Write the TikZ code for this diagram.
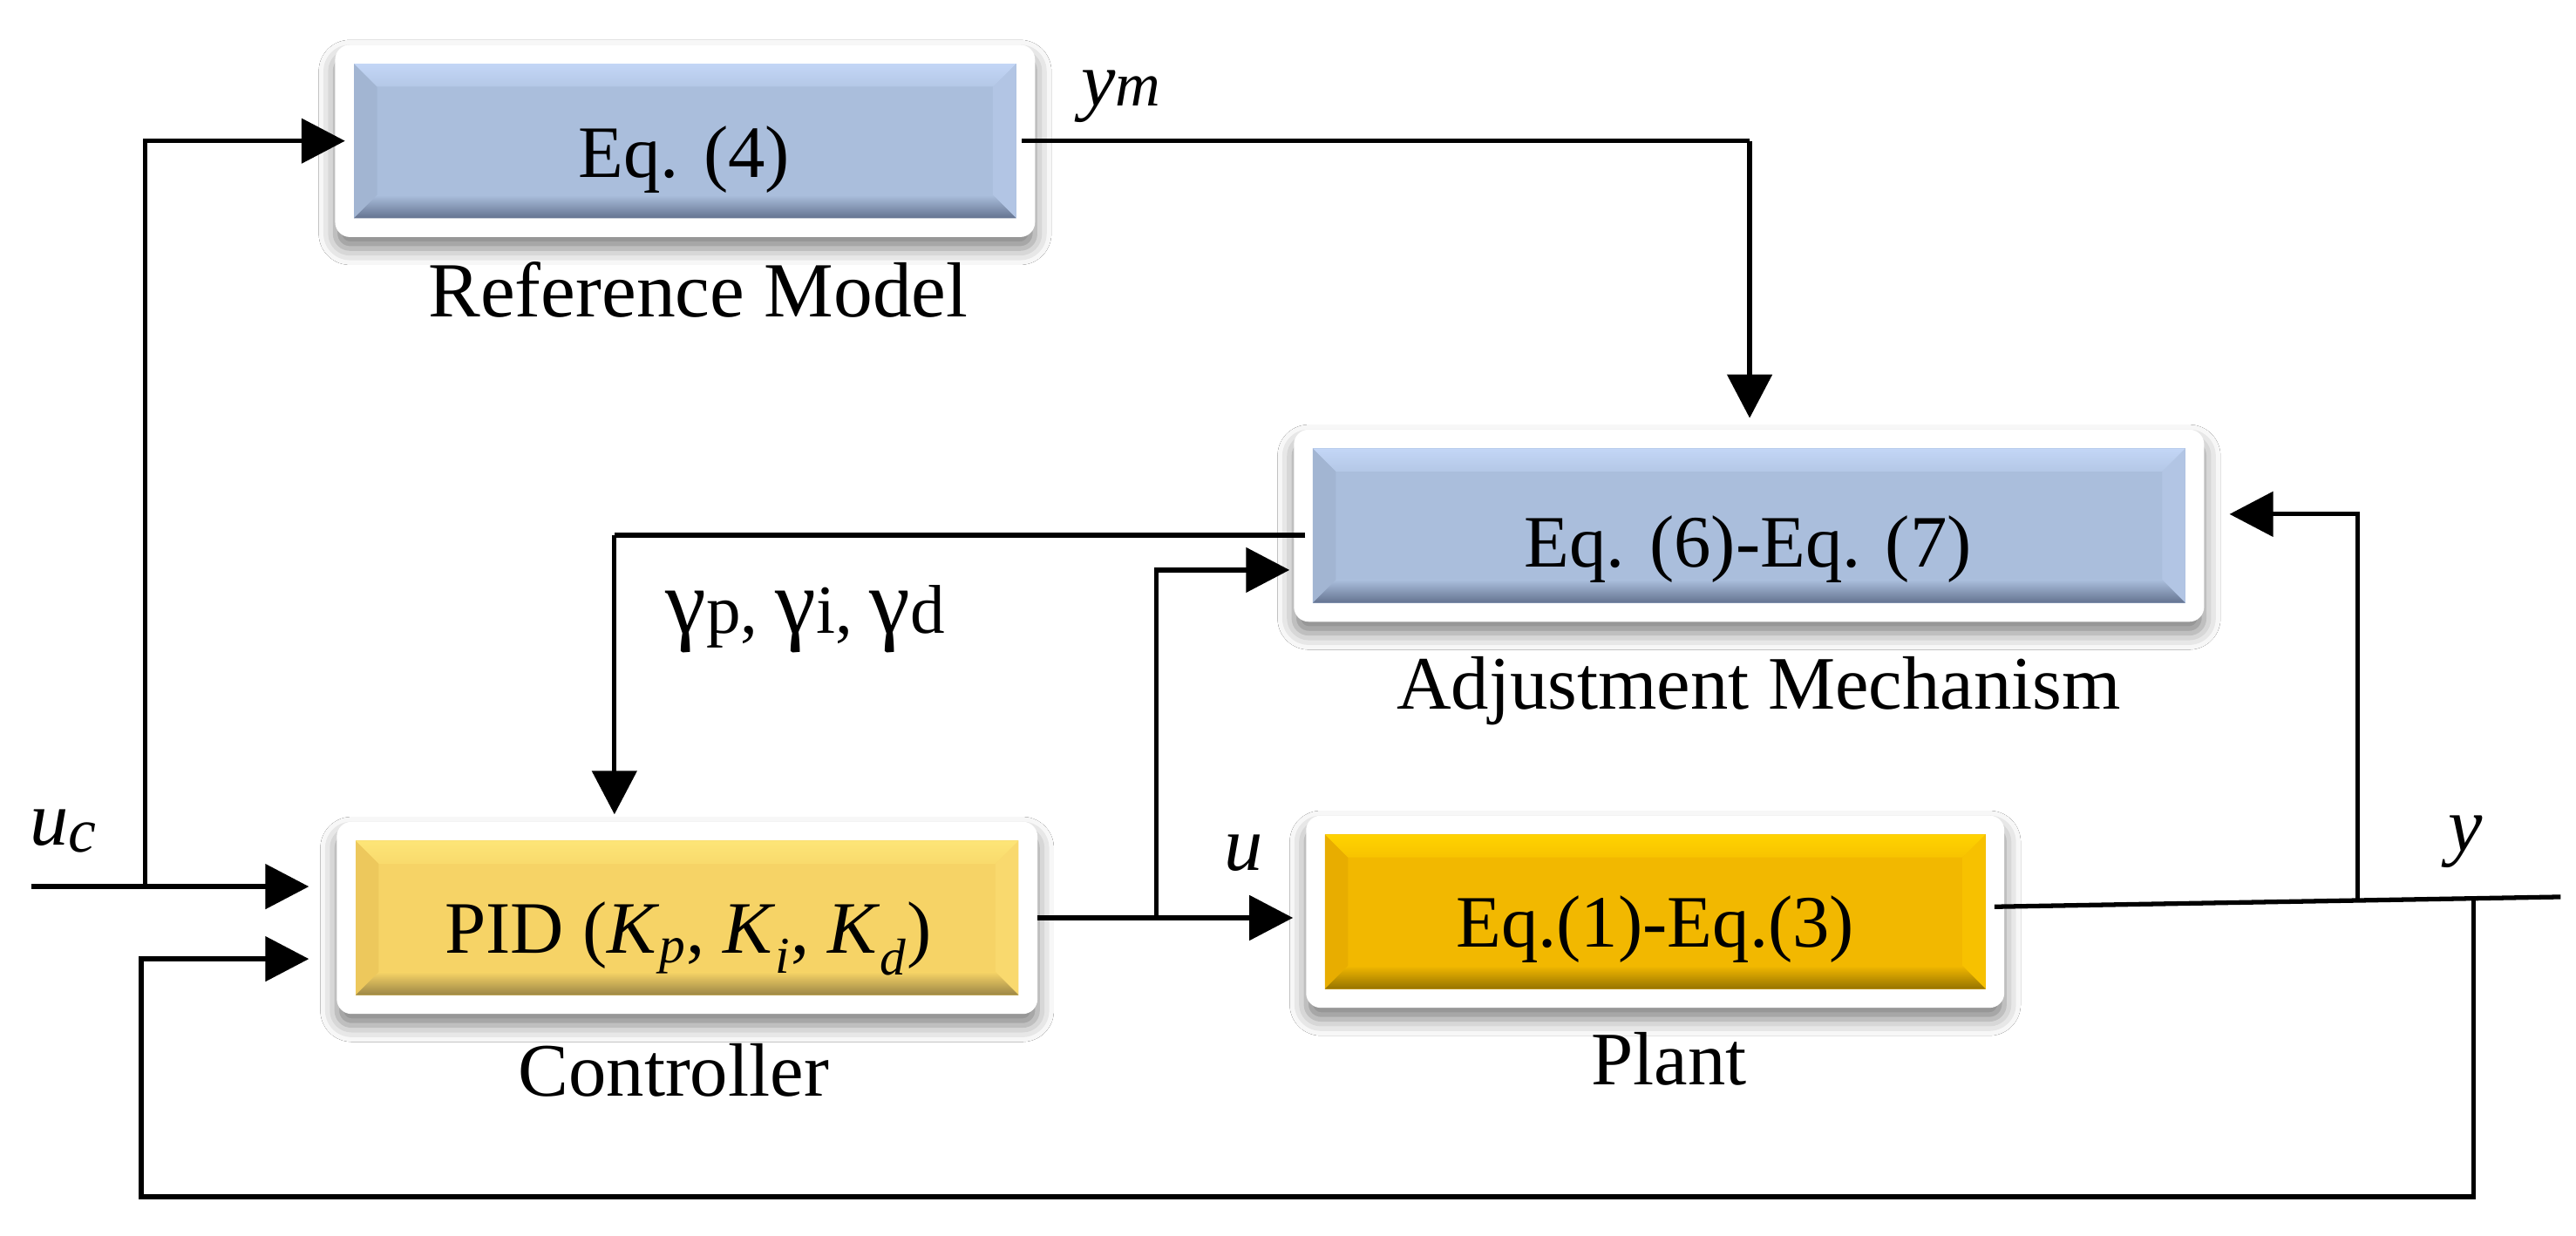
\documentclass[tikz,border=0pt]{standalone}
\usepackage{fontspec}
\setmainfont{Liberation Serif}
\usetikzlibrary{calc,arrows.meta,shadows.blur}

\definecolor{bbase}{HTML}{AABEDC}
\definecolor{blight}{HTML}{C3D6F6}
\definecolor{bdark}{HTML}{647390}
\definecolor{bleft}{HTML}{A2B5D2}
\definecolor{bright}{HTML}{B2C5E4}
\definecolor{ybase}{HTML}{F6D366}
\definecolor{ylight}{HTML}{FDE577}
\definecolor{ydark}{HTML}{9C8646}
\definecolor{yleft}{HTML}{EDC85C}
\definecolor{yright}{HTML}{F9D96E}
\definecolor{gbase}{HTML}{F2B800}
\definecolor{glight}{HTML}{FFD300}
\definecolor{gdark}{HTML}{967300}
\definecolor{gleft}{HTML}{E8AD00}
\definecolor{gright}{HTML}{F7C100}

\newcommand\bevelfill[6]{%
  \coordinate (#1A) at ($(#1.north west)+(11.5,-11.5)$);
  \coordinate (#1B) at ($(#1.south east)+(-11.5,11.5)$);
  \coordinate (#1C) at ($(#1A)+(14,-14)$);
  \coordinate (#1D) at ($(#1B)+(-14,14)$);
  \fill[#2] (#1A) rectangle (#1B);
  \fill[#5] (#1A) -- (#1C) -- (#1C|-#1D) -- (#1A|-#1B) -- cycle;
  \fill[#6] (#1B|-#1A) -- (#1D|-#1C) -- (#1D) -- (#1B) -- cycle;
  \shade[top color=#3, bottom color=#2!60!#3] (#1A) -- (#1B|-#1A) -- (#1D|-#1C) -- (#1C) -- cycle;
  \shade[top color=#2, bottom color=#4] (#1A|-#1B) -- (#1B) -- (#1D) -- (#1C|-#1D) -- cycle;
}
\newcommand\gsub[1]{{\fontsize{56}{60}\selectfont γ}{\fontsize{42}{48}\selectfont #1}}

\tikzset{
  frame/.style={draw=none, fill=white, rounded corners=9pt, inner sep=0pt, outer sep=0pt,
    minimum height=117pt,
    blur shadow={shadow xshift=0pt, shadow yshift=-7pt, shadow blur radius=10pt, shadow opacity=50}},
  txt/.style={anchor=base, inner sep=0pt, font=\fontsize{45}{54}\selectfont},
  lbl/.style={anchor=base, inner sep=0pt, font=\fontsize{46}{54}\selectfont},
  sig/.style={anchor=base west, inner sep=0pt, font=\fontsize{47}{54}\selectfont\itshape},
  line/.style={line width=2.8pt, line join=miter},
  arr/.style={line, -{Triangle[length=26.5pt,width=27pt]}},
}

\begin{document}
\begin{tikzpicture}[x=1pt,y=1pt]
\useasboundingbox (0,0) rectangle (1568,752);
\fill[white] (0,0) rectangle (1568,752);

% boxes
\node[frame, minimum width=426pt] (ref) at (417,666.2) {};
\node[frame, minimum width=554pt] (adj) at (1064.6,432) {};
\node[frame, minimum width=426.5pt] (ctrl) at (418.25,193.25) {};
\node[frame, minimum width=425pt] (plant) at (1007.5,197) {};

\bevelfill{ref}{bbase}{blight}{bdark}{bleft}{bright}
\bevelfill{adj}{bbase}{blight}{bdark}{bleft}{bright}
\bevelfill{ctrl}{ybase}{ylight}{ydark}{yleft}{yright}
\bevelfill{plant}{gbase}{glight}{gdark}{gleft}{gright}

% box texts
\node[txt] (reftxt) at (416.5,644.2) {Eq. (4)};
\node[txt] (adjtxt) at (1064,407) {Eq. (6)-Eq. (7)};
\node[txt] (ctrltxt) at (419,172) {PID (\textit{K}\textsubscript{\textit{p}}, \textit{K}\textsubscript{\textit{i}}, \textit{K}\textsubscript{\textit{d}})};
\node[txt] (plttxt) at (1007.5,175.4) {Eq.(1)-Eq.(3)};

% captions
\node[lbl, font=\fontsize{47.5}{54}\selectfont] (reflbl) at (425,559.3) {Reference Model};
\node[lbl] (adjlbl) at (1070.5,320.4) {Adjustment Mechanism};
\node[lbl] (ctrllbl) at (410,85) {Controller};
\node[lbl] (pltlbl) at (1016,91.4) {Plant};

% signal labels
\node[sig] (uc) at (18,237.3) {u\raisebox{-4pt}{\fontsize{38}{40}\selectfont c}};
\node[sig] (ym) at (658,687.4) {y{\fontsize{38}{40}\selectfont m}};
\node[sig] (ulbl) at (745,222) {u};
\node[sig] (ylbl) at (1490,234) {y};
\node[anchor=base west, inner sep=0pt] (gam) at (405,366.3) {\gsub{p}{\fontsize{42}{48}\selectfont, }\gsub{i}{\fontsize{42}{48}\selectfont, }\gsub{d}};

% junction / end coordinates
\coordinate (ucin) at (19,212.3);
\coordinate (j1) at (88.4,212.3);
\coordinate (fbl) at (86,23.5);
\coordinate (fb) at (1505.5,204.6);
\coordinate (j2) at (704,193.25);
\coordinate (j3) at (1435,204.4);
\coordinate (yout) at (1558.6,206);
\coordinate (ymc) at (1065,666.2);
\coordinate (gamc) at (374,426.2);

% connectors
\draw[arr, shorten >=17pt] (ucin) -- (ctrl.west|-ucin);
\draw[arr, shorten >=-6pt] (j1) |- (ref.west);
\draw[line] ($(ref.east)+(-8,0)$) -- (ymc);
\draw[arr, shorten >=7pt] (ymc) -- (adj.north-|ymc);
\draw[line] ($(adj.west)+(7,-5.8)$) -- (gamc);
\draw[arr, shorten >=4.5pt] (gamc) -- (ctrl.north-|gamc);
\draw[arr, shorten >=8pt] (ctrl.east) -- (plant.west|-ctrl.east);
\draw[arr, shorten >=2.7pt] (j2) |- ($(adj.west)+(0,-27)$);
\draw[line] ($(plant.east)+(-6,3)$) -- (yout);
\draw[arr, shorten >=15.5pt] (j3) |- ($(adj.east)+(0,7)$);
\draw[arr, shorten >=17pt] (fb) |- (fbl) |- ($(ctrl.west)+(0,-25)$);
\end{tikzpicture}
\end{document}
